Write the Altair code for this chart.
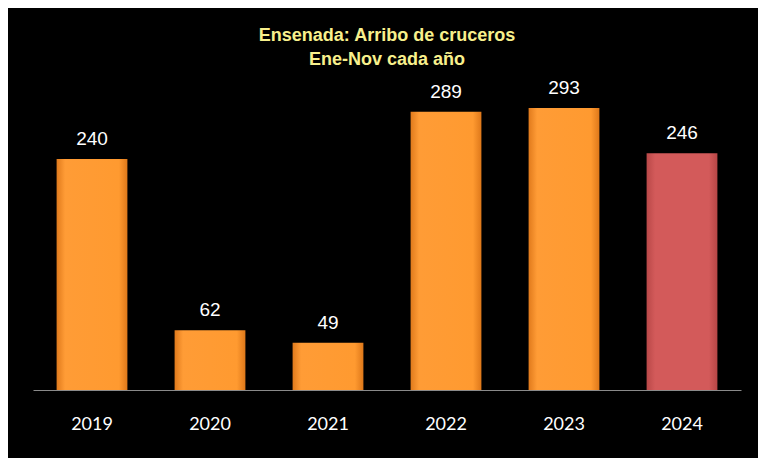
import altair as alt
import pandas as pd

years = ["2019", "2020", "2021", "2022", "2023", "2024"]
arrivals = [240, 62, 49, 289, 293, 246]
highlight = [False, False, False, False, False, True]

df = pd.DataFrame({"year": years, "value": arrivals, "hl": highlight})

orange = alt.Gradient(
    gradient="linear", x1=0, x2=1, y1=0, y2=0,
    stops=[alt.GradientStop(color="#E07A1C", offset=0),
           alt.GradientStop(color="#FF9C36", offset=0.12),
           alt.GradientStop(color="#FF9A30", offset=0.88),
           alt.GradientStop(color="#DE781A", offset=1)])
red = alt.Gradient(
    gradient="linear", x1=0, x2=1, y1=0, y2=0,
    stops=[alt.GradientStop(color="#B94848", offset=0),
           alt.GradientStop(color="#D35A5A", offset=0.12),
           alt.GradientStop(color="#D35A5A", offset=0.88),
           alt.GradientStop(color="#B84646", offset=1)])

x = alt.X("year:N", sort=years, title=None,
          scale=alt.Scale(paddingInner=0.4, paddingOuter=0.2),
          axis=alt.Axis(labelAngle=0, labelColor="white", labelFont="Lato",
                        labelFontSize=18, labelPadding=25, ticks=False,
                        domainColor="#8a8a8a", domainWidth=1, grid=False))
y = alt.Y("value:Q", title=None, scale=alt.Scale(domain=[0, 350]), axis=None)

base = alt.Chart(df).encode(x=x, y=y)

bars_o = base.transform_filter("!datum.hl").mark_bar(color=orange)
bars_r = base.transform_filter("datum.hl").mark_bar(color=red)
labels = base.mark_text(dy=-20, color="white", font="Liberation Sans",
                        fontSize=19).encode(text="value:Q")

chart = alt.layer(bars_o, bars_r, labels).properties(
    width=708, height=337,
    background="black",
    padding={"left": 25, "right": 17, "top": 45, "bottom": 68},
    autosize=alt.AutoSizeParams(type="none"),
    title=alt.TitleParams(
        text=["Ensenada: Arribo de cruceros", "Ene-Nov cada año"],
        color="#F8F08C", font="Liberation Sans", fontSize=18,
        fontWeight="bold", anchor="middle", lineHeight=24, offset=0, dy=16),
).configure_view(stroke=None)

chart.save("out.html", embed_options={"renderer": "svg", "actions": False})
